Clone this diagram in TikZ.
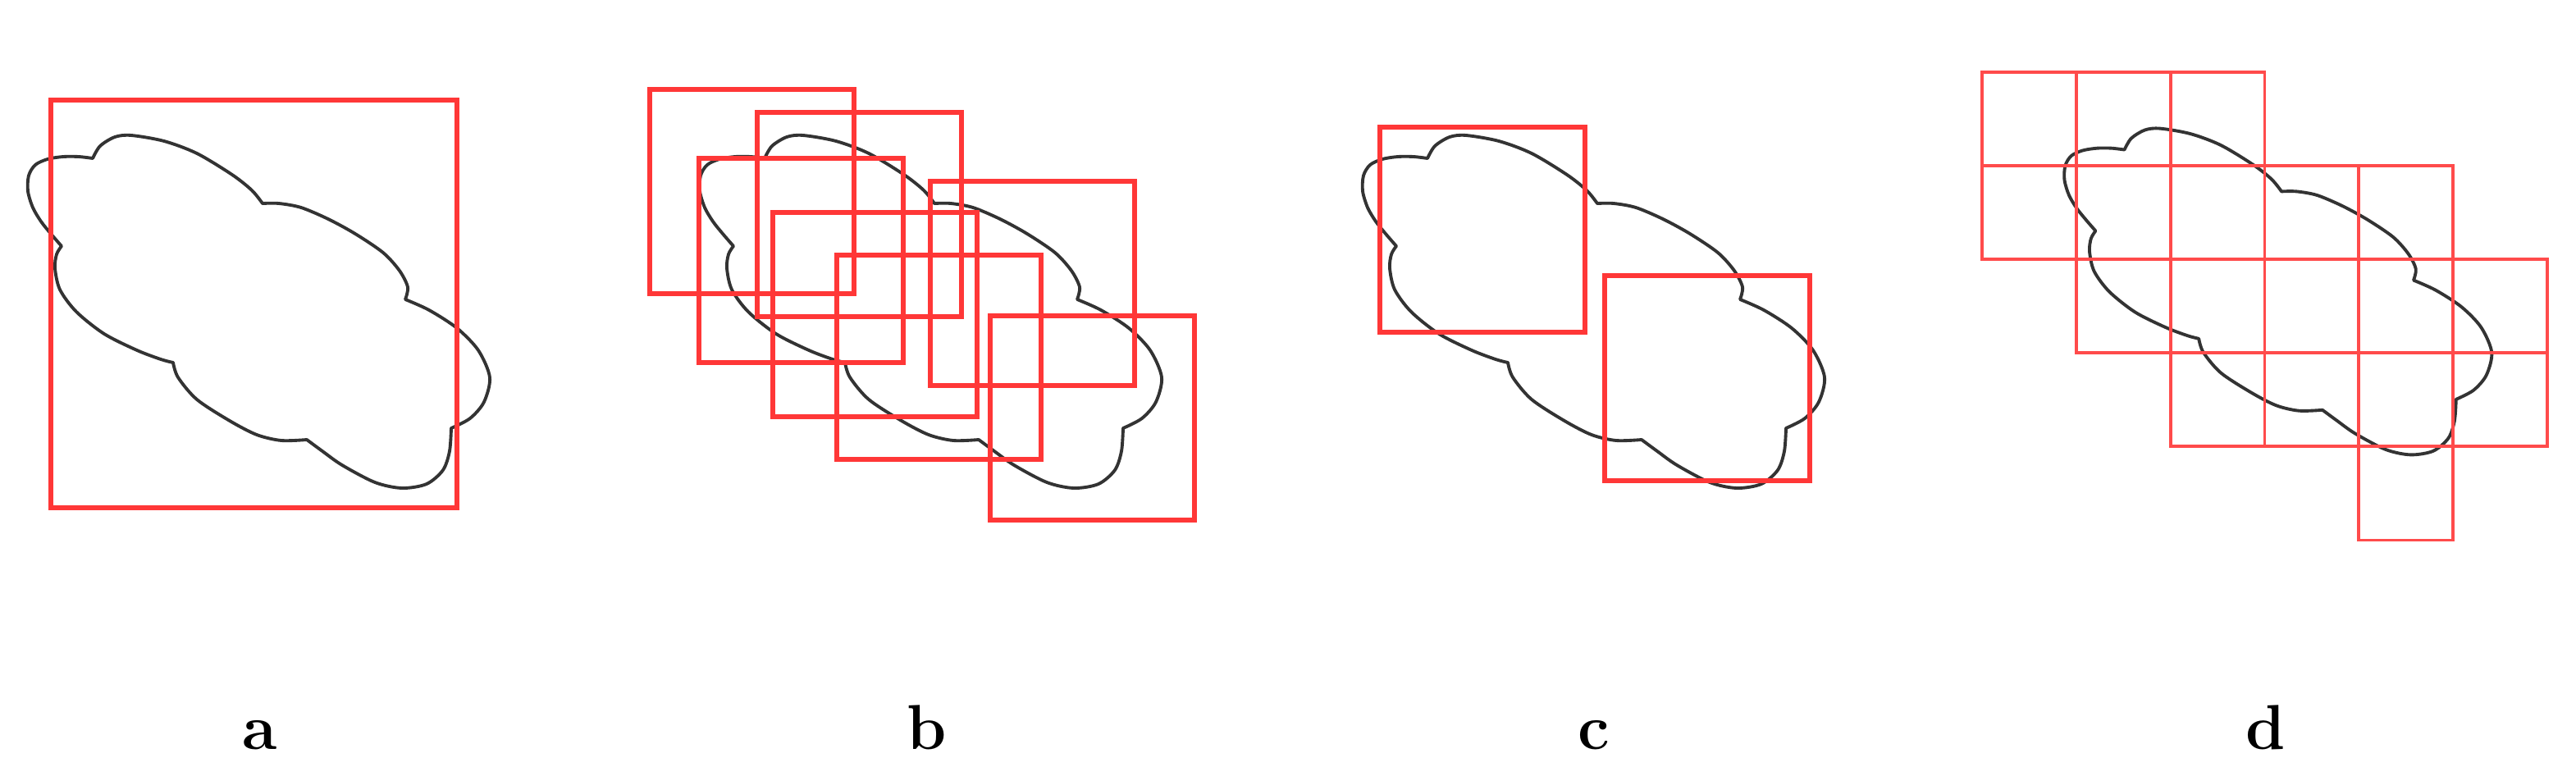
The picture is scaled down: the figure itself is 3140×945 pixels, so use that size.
\documentclass[tikz,border=0pt]{standalone}
\usepackage{tikz}
\definecolor{boxred}{RGB}{255,55,55}
\tikzset{
  outline/.style={draw=black!80, line width=1.1pt, line join=round},
  bigbox/.style={draw=boxred, line width=1.7pt},
  midbox/.style={draw=boxred, line width=1.5pt},
  cellbox/.style={draw=boxred!90, line width=1.1pt},
  caption/.style={anchor=base, inner sep=0pt, font=\fontsize{22}{26}\selectfont\bfseries},
  blob/.pic={
    \draw[outline]
      plot[smooth] coordinates {(113,193) (96,191) (77,191) (58,194) (43,201) (35,214) (34,233) (40,253) (50,270) (62,285) (75,300)}
      -- plot[smooth] coordinates {(75,300) (69,310) (67,327) (73,353) (93,380) (127,407) (167,427) (196,438) (211,442)}
      -- plot[smooth] coordinates {(211,442) (217,460) (240,487) (280,513) (313,530) (343,537) (374,536)}
      -- plot[smooth] coordinates {(374,536) (393,550) (417,567) (457,588) (490,595) (520,590) (540,573) (548,550) (550,522)}
      -- plot[smooth] coordinates {(550,522) (573,510) (590,490) (597,460) (583,427) (557,400) (523,378) (494,365)}
      -- plot[smooth] coordinates {(494,365) (497,350) (487,330) (467,308) (433,285) (400,267) (367,253) (340,248) (320,248)}
      -- plot[smooth] coordinates {(320,248) (307,232) (283,213) (240,187) (200,172) (160,165) (140,167) (122,178) (113,193)}
      -- cycle;
  }}

\begin{document}
\begin{tikzpicture}[x=0.01cm, y=-0.01cm]
  \useasboundingbox (0,0) rectangle (3140,945);

  % a
  \pic at (0,0) {blob};
  \draw[bigbox] (62,122) rectangle (557,619);

  % b
  \pic at (819,0) {blob};
  \foreach \x/\y in {792/109, 923/137, 852/193, 1134/221, 942/259, 1020/311, 1207/385} {
    \draw[midbox] (\x,\y) rectangle ++(249,249);
  }

  % c
  \pic at (1627,0) {blob};
  \draw[midbox] (1682,155) rectangle ++(250,250);
  \draw[midbox] (1956,336) rectangle ++(250,250);

  % d
  \pic[scale=0.925] at (2485,4) {blob};
  \foreach \c/\r in {0/0,1/0,2/0,0/1,1/1,2/1,3/1,4/1,1/2,2/2,3/2,4/2,5/2,2/3,3/3,4/3,5/3,4/4} {
    \draw[cellbox] (2416+\c*114.8,88+\r*114.1) rectangle ++(114.8,114.1);
  }

  \node[caption] (lbla) at (317,913) {a};
  \node[caption] (lblb) at (1130,913) {b};
  \node[caption] (lblc) at (1943,913) {c};
  \node[caption] (lbld) at (2762,913) {d};
\end{tikzpicture}
\end{document}
